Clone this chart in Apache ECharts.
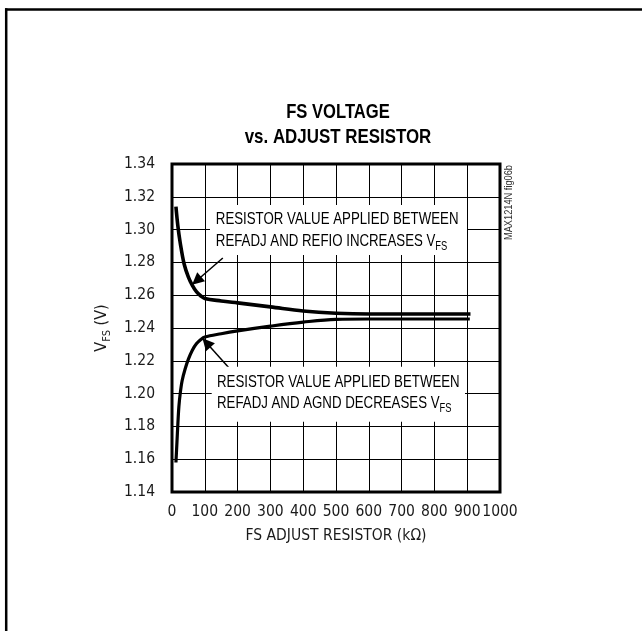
<!DOCTYPE html>
<html>
<head>
<meta charset="utf-8">
<script src="https://cdn.jsdelivr.net/npm/echarts@6/dist/echarts.min.js"></script>
<style>
html,body{margin:0;padding:0;background:#fff;}
#c{width:642px;height:631px;}
</style>
</head>
<body>
<div id="c"></div>
<script>
// ---- data ----
const xTicks = [0, 100, 200, 300, 400, 500, 600, 700, 800, 900, 1000];
const yTicks = [1.14, 1.16, 1.18, 1.20, 1.22, 1.24, 1.26, 1.28, 1.30, 1.32, 1.34];

// REFADJ to REFIO (increases VFS)
const upperX = [12, 18, 25, 37, 50, 62, 75, 88, 100, 150, 200, 300, 400, 500, 600, 700, 800, 910];
const upperY = [1.314, 1.302, 1.292, 1.279, 1.271, 1.266, 1.262, 1.2595, 1.258, 1.2565, 1.2553, 1.2529, 1.2504, 1.249, 1.2485, 1.2485, 1.2485, 1.2485];

// REFADJ to AGND (decreases VFS)
const lowerX = [12, 15, 18, 21, 25, 31, 40, 50, 62, 75, 88, 100, 150, 200, 300, 400, 500, 600, 700, 800, 908];
const lowerY = [1.158, 1.170, 1.182, 1.192, 1.200, 1.208, 1.215, 1.221, 1.2265, 1.2305, 1.233, 1.2345, 1.2365, 1.2382, 1.2411, 1.2436, 1.2453, 1.2455, 1.2455, 1.2455, 1.2455];

// arrows (annotation pointers): [tailX, tailY, headX, headY] in data units
const arrowUp = [155, 1.2827, 75, 1.2688];
const arrowLow = [174, 1.2156, 105, 1.2310];

const titleLines = ['FS VOLTAGE', 'vs. ADJUST RESISTOR'];
const xName = 'FS ADJUST RESISTOR (kΩ)';
const ann1 = ['RESISTOR VALUE APPLIED BETWEEN', 'REFADJ AND REFIO INCREASES V', 'FS'];
const ann2 = ['RESISTOR VALUE APPLIED BETWEEN', 'REFADJ AND AGND DECREASES V', 'FS'];
const sideLabel = 'MAX1214N fig06b';

const COND = "'DejaVu Sans Condensed', 'DejaVu Sans', sans-serif";
const HELV = "'Liberation Sans', Arial, sans-serif";
const TXT = '#1a1a1a';

const chart = echarts.init(document.getElementById('c'), null, {renderer: 'canvas'});

function annRich(lh) {
  return {
    b: {fontFamily: HELV, fontSize: 17, lineHeight: lh, color: TXT},
    s: {fontFamily: HELV, fontSize: 12, lineHeight: 14, verticalAlign: 'bottom', color: TXT}
  };
}
function annText(lines) {
  return '{b|' + lines[0] + '}\n{b|' + lines[1] + '}{s|' + lines[2] + '}';
}

const option = {
  backgroundColor: '#fff',
  animation: false,
  grid: {
    left: 172, top: 164, width: 328, height: 328,
    show: true, borderColor: '#000', borderWidth: 3, backgroundColor: 'transparent'
  },
  xAxis: {
    type: 'value', min: xTicks[0], max: xTicks[xTicks.length - 1], interval: 100,
    axisLine: {show: false}, axisTick: {show: false},
    splitLine: {show: true, lineStyle: {color: '#000', width: 1}},
    axisLabel: {margin: 12, fontFamily: COND, fontSize: 15.5, color: TXT,
      showMinLabel: true, showMaxLabel: true, hideOverlap: false,
      formatter: v => String(v)},
    name: xName, nameLocation: 'middle', nameGap: 36,
    nameTextStyle: {fontFamily: COND, fontSize: 15.5, color: TXT}
  },
  yAxis: {
    type: 'value', min: yTicks[0], max: yTicks[yTicks.length - 1], interval: 0.02,
    axisLine: {show: false}, axisTick: {show: false},
    splitLine: {show: true, lineStyle: {color: '#000', width: 1}},
    axisLabel: {margin: 17, fontFamily: COND, fontSize: 15.5, color: TXT,
      showMinLabel: true, showMaxLabel: true,
      formatter: v => v.toFixed(2)},
    name: '{v|V}{s|FS}{v| (V)}', nameLocation: 'middle', nameGap: 43, nameRotate: 90,
    nameTextStyle: {
      rich: {
        v: {fontFamily: COND, fontSize: 16, lineHeight: 22, color: TXT},
        s: {fontFamily: COND, fontSize: 11, lineHeight: 14, verticalAlign: 'bottom', color: TXT}
      }
    }
  },
  series: [
    {
      type: 'line', name: 'REFADJ-REFIO',
      data: upperX.map((x, i) => [x, upperY[i]]),
      showSymbol: false, smooth: 0.35,
      lineStyle: {color: '#000', width: 3.6},
      markLine: {
        silent: true, symbol: ['none', 'triangle'], symbolSize: 12,
        lineStyle: {color: '#000', width: 1.5, type: 'solid'},
        label: {show: false},
        data: [[{coord: [arrowUp[0], arrowUp[1]]}, {coord: [arrowUp[2], arrowUp[3]]}]]
      }
    },
    {
      type: 'line', name: 'REFADJ-AGND',
      data: lowerX.map((x, i) => [x, lowerY[i]]),
      showSymbol: false, smooth: 0.35,
      lineStyle: {color: '#000', width: 3.2},
      markLine: {
        silent: true, symbol: ['none', 'triangle'], symbolSize: 12,
        lineStyle: {color: '#000', width: 1.5, type: 'solid'},
        label: {show: false},
        data: [[{coord: [arrowLow[0], arrowLow[1]]}, {coord: [arrowLow[2], arrowLow[3]]}]]
      }
    }
  ],
  graphic: [
    // page frame (left and top rules)
    {type: 'line', z: 20, shape: {x1: 6.2, y1: 8.3, x2: 6.2, y2: 631}, style: {stroke: '#000', lineWidth: 2.5}},
    {type: 'line', z: 20, shape: {x1: 5, y1: 9.5, x2: 642, y2: 9.5}, style: {stroke: '#000', lineWidth: 2.5}},
    // title
    {type: 'text', z: 20, x: 338, y: 112.7, scaleX: 0.79,
      style: {text: titleLines[0], font: "bold 21px " + HELV, fill: '#000', align: 'center', verticalAlign: 'middle'}},
    {type: 'text', z: 20, x: 338, y: 137.5, scaleX: 0.805,
      style: {text: titleLines[1], font: "bold 21px " + HELV, fill: '#000', align: 'center', verticalAlign: 'middle'}},
    // side label
    {type: 'text', z: 20, x: 509, y: 202.5, rotation: Math.PI / 2, scaleX: 0.84,
      style: {text: sideLabel, font: "11px " + HELV, fill: '#333', align: 'center', verticalAlign: 'middle'}},
    // annotation backgrounds
    {type: 'rect', z: 19, shape: {x: 210, y: 205, width: 257, height: 50}, style: {fill: '#fff'}},
    {type: 'rect', z: 19, shape: {x: 211.7, y: 366.7, width: 253.3, height: 55}, style: {fill: '#fff'}},
    // annotations
    {type: 'text', z: 20, x: 215.8, y: 207.75, scaleX: 0.78,
      style: {text: annText(ann1), rich: annRich(22.5), align: 'left', verticalAlign: 'top'}},
    {type: 'text', z: 20, x: 217, y: 371.2, scaleX: 0.78,
      style: {text: annText(ann2), rich: annRich(21.6), align: 'left', verticalAlign: 'top'}}
  ]
};

chart.setOption(option);
</script>
</body>
</html>
